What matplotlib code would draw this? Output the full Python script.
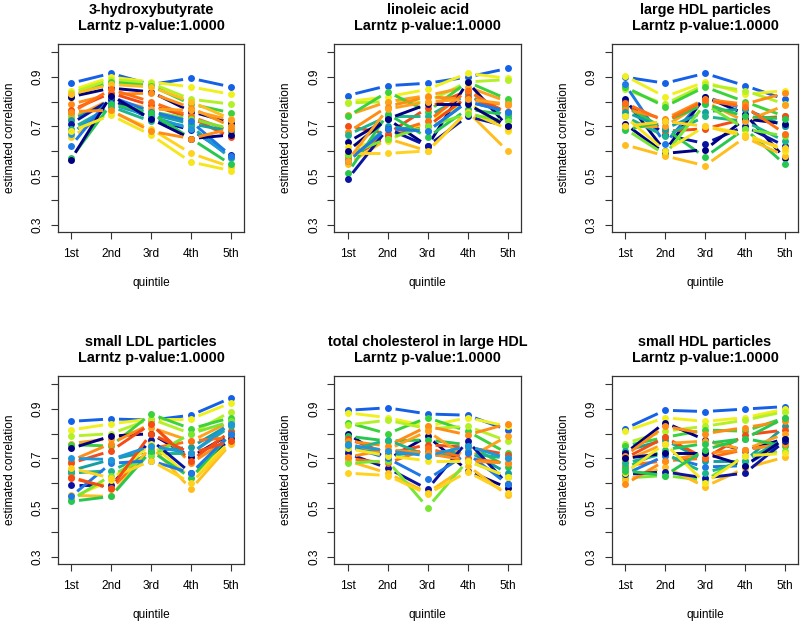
import numpy as np
import matplotlib
matplotlib.use("Agg")
import matplotlib.pyplot as plt
from matplotlib.transforms import offset_copy

plt.rcParams["font.family"] = ["Liberation Sans", "DejaVu Sans"]

QUINTILES = ["1st", "2nd", "3rd", "4th", "5th"]
TITLES = ["3-hydroxybutyrate", "linoleic acid", "large HDL particles",
          "small LDL particles", "total cholesterol in large HDL",
          "small HDL particles"]
SUBTITLE = "Larntz p-value:1.0000"
Y_TICKS = [0.3, 0.4, 0.5, 0.6, 0.7, 0.8, 0.9, 1.0]
Y_TICK_LABELS = ["0.3", "", "0.5", "", "0.7", "", "0.9", ""]

# palette, navy -> blue -> teal -> green -> yellow -> orange -> orange-red
PALETTE = ["#000080", "#0A14A0", "#1460E6", "#1E78E6", "#1E96DC",
           "#14A0A0", "#1EB48C", "#28C850", "#3CD23C", "#78E632",
           "#B4F028", "#DCF028", "#F0F01E", "#F5E61E", "#FFD21E",
           "#FFBE1E", "#FFA01E", "#FF8C14", "#FF6E14", "#F54B14"]

# panel 1: 3-hydroxybutyrate
P1_COLORS = [2, 12, 10, 8, 0, 15, 17, 19, 18, 9, 16, 5, 1, 6, 14, 4, 3, 7, 0, 13, 17]
P1_VALUES = [
    [0.875, 0.915, 0.870, 0.895, 0.860],
    [0.845, 0.900, 0.880, 0.860, 0.830],
    [0.835, 0.890, 0.875, 0.810, 0.790],
    [0.820, 0.880, 0.865, 0.790, 0.755],
    [0.820, 0.855, 0.840, 0.760, 0.715],
    [0.830, 0.870, 0.860, 0.800, 0.730],
    [0.790, 0.830, 0.835, 0.775, 0.700],
    [0.765, 0.835, 0.785, 0.735, 0.655],
    [0.755, 0.850, 0.800, 0.740, 0.680],
    [0.740, 0.790, 0.760, 0.730, 0.690],
    [0.730, 0.810, 0.770, 0.765, 0.725],
    [0.725, 0.800, 0.750, 0.710, 0.680],
    [0.710, 0.810, 0.730, 0.685, 0.585],
    [0.690, 0.780, 0.720, 0.700, 0.570],
    [0.655, 0.760, 0.690, 0.590, 0.535],
    [0.670, 0.790, 0.740, 0.690, 0.575],
    [0.620, 0.820, 0.760, 0.720, 0.580],
    [0.570, 0.790, 0.755, 0.650, 0.545],
    [0.565, 0.825, 0.730, 0.650, 0.665],
    [0.680, 0.745, 0.665, 0.555, 0.520],
    [0.760, 0.765, 0.680, 0.650, 0.690],
]

# panel 2: linoleic acid
P2_COLORS = [2, 12, 10, 16, 8, 19, 17, 6, 0, 13, 18, 19, 5, 15, 7, 1, 14, 9, 3, 0, 16]
P2_VALUES = [
    [0.825, 0.865, 0.875, 0.900, 0.935],
    [0.800, 0.820, 0.850, 0.915, 0.895],
    [0.795, 0.800, 0.800, 0.880, 0.890],
    [0.745, 0.800, 0.825, 0.860, 0.800],
    [0.740, 0.840, 0.760, 0.880, 0.810],
    [0.700, 0.670, 0.775, 0.845, 0.750],
    [0.675, 0.780, 0.820, 0.810, 0.785],
    [0.665, 0.740, 0.740, 0.830, 0.735],
    [0.635, 0.730, 0.620, 0.880, 0.700],
    [0.615, 0.640, 0.720, 0.800, 0.680],
    [0.575, 0.670, 0.720, 0.845, 0.750],
    [0.565, 0.660, 0.700, 0.820, 0.760],
    [0.555, 0.700, 0.680, 0.800, 0.760],
    [0.545, 0.650, 0.600, 0.760, 0.600],
    [0.510, 0.750, 0.655, 0.770, 0.745],
    [0.485, 0.690, 0.620, 0.740, 0.700],
    [0.590, 0.590, 0.600, 0.760, 0.690],
    [0.585, 0.650, 0.700, 0.750, 0.720],
    [0.560, 0.690, 0.680, 0.800, 0.760],
    [0.600, 0.730, 0.790, 0.790, 0.700],
    [0.560, 0.770, 0.800, 0.810, 0.790],
]

# panel 3: large HDL particles
P3_COLORS = [2, 12, 10, 8, 3, 0, 1, 19, 7, 17, 5, 6, 0, 16, 9, 7, 15, 13, 18, 14]
P3_VALUES = [
    [0.900, 0.875, 0.915, 0.865, 0.810],
    [0.905, 0.820, 0.880, 0.830, 0.845],
    [0.850, 0.790, 0.870, 0.845, 0.790],
    [0.860, 0.780, 0.860, 0.800, 0.740],
    [0.870, 0.630, 0.820, 0.770, 0.700],
    [0.810, 0.600, 0.820, 0.750, 0.570],
    [0.800, 0.665, 0.630, 0.700, 0.620],
    [0.790, 0.680, 0.690, 0.730, 0.740],
    [0.780, 0.690, 0.575, 0.690, 0.545],
    [0.770, 0.730, 0.810, 0.790, 0.835],
    [0.760, 0.690, 0.760, 0.770, 0.700],
    [0.740, 0.660, 0.740, 0.720, 0.640],
    [0.710, 0.590, 0.605, 0.730, 0.710],
    [0.700, 0.700, 0.800, 0.720, 0.785],
    [0.690, 0.585, 0.790, 0.690, 0.660],
    [0.685, 0.720, 0.790, 0.740, 0.730],
    [0.625, 0.580, 0.540, 0.655, 0.580],
    [0.740, 0.600, 0.700, 0.670, 0.600],
    [0.795, 0.720, 0.805, 0.780, 0.670],
    [0.700, 0.720, 0.700, 0.660, 0.610],
]

# panel 4: small LDL particles
P4_COLORS = [2, 12, 10, 16, 8, 0, 17, 19, 5, 6, 18, 1, 15, 13, 9, 7, 3, 14, 19, 4]
P4_VALUES = [
    [0.850, 0.860, 0.855, 0.875, 0.945],
    [0.815, 0.840, 0.860, 0.860, 0.925],
    [0.790, 0.800, 0.860, 0.800, 0.890],
    [0.760, 0.780, 0.825, 0.770, 0.850],
    [0.755, 0.750, 0.880, 0.820, 0.865],
    [0.740, 0.790, 0.800, 0.705, 0.800],
    [0.690, 0.760, 0.840, 0.680, 0.785],
    [0.680, 0.730, 0.840, 0.690, 0.810],
    [0.650, 0.695, 0.730, 0.745, 0.840],
    [0.640, 0.650, 0.720, 0.720, 0.830],
    [0.625, 0.575, 0.740, 0.770, 0.785],
    [0.590, 0.590, 0.775, 0.640, 0.780],
    [0.550, 0.545, 0.750, 0.575, 0.760],
    [0.540, 0.610, 0.760, 0.620, 0.770],
    [0.530, 0.630, 0.710, 0.800, 0.850],
    [0.525, 0.545, 0.730, 0.620, 0.800],
    [0.545, 0.680, 0.690, 0.640, 0.800],
    [0.660, 0.620, 0.690, 0.600, 0.765],
    [0.620, 0.580, 0.800, 0.720, 0.770],
    [0.700, 0.695, 0.750, 0.720, 0.840],
]

# panel 5: total cholesterol in large HDL
P5_COLORS = [2, 12, 8, 10, 0, 7, 19, 17, 5, 16, 6, 1, 18, 15, 9, 14, 3, 17, 13, 4]
P5_VALUES = [
    [0.895, 0.905, 0.880, 0.875, 0.815],
    [0.885, 0.865, 0.830, 0.865, 0.830],
    [0.845, 0.800, 0.865, 0.810, 0.720],
    [0.835, 0.855, 0.820, 0.830, 0.770],
    [0.800, 0.695, 0.790, 0.650, 0.580],
    [0.790, 0.770, 0.775, 0.755, 0.665],
    [0.780, 0.720, 0.755, 0.745, 0.715],
    [0.770, 0.750, 0.830, 0.795, 0.840],
    [0.760, 0.710, 0.730, 0.730, 0.640],
    [0.745, 0.735, 0.810, 0.700, 0.790],
    [0.730, 0.775, 0.710, 0.720, 0.700],
    [0.720, 0.660, 0.575, 0.770, 0.595],
    [0.700, 0.680, 0.740, 0.700, 0.680],
    [0.690, 0.640, 0.560, 0.670, 0.550],
    [0.680, 0.690, 0.500, 0.690, 0.625],
    [0.640, 0.630, 0.555, 0.645, 0.560],
    [0.750, 0.700, 0.615, 0.720, 0.595],
    [0.705, 0.735, 0.720, 0.690, 0.680],
    [0.740, 0.710, 0.690, 0.690, 0.625],
    [0.755, 0.730, 0.710, 0.750, 0.700],
]

# panel 6: small HDL particles
P6_COLORS = [2, 12, 10, 8, 5, 0, 17, 19, 16, 18, 7, 3, 9, 15, 17, 1, 6, 0, 13, 7]
P6_VALUES = [
    [0.820, 0.895, 0.890, 0.900, 0.910],
    [0.810, 0.865, 0.850, 0.865, 0.900],
    [0.760, 0.810, 0.830, 0.855, 0.890],
    [0.750, 0.785, 0.815, 0.810, 0.865],
    [0.730, 0.775, 0.690, 0.690, 0.830],
    [0.720, 0.845, 0.775, 0.730, 0.780],
    [0.710, 0.830, 0.800, 0.825, 0.850],
    [0.700, 0.785, 0.700, 0.795, 0.815],
    [0.690, 0.760, 0.770, 0.735, 0.800],
    [0.670, 0.690, 0.700, 0.735, 0.760],
    [0.660, 0.735, 0.760, 0.780, 0.750],
    [0.635, 0.710, 0.665, 0.670, 0.770],
    [0.620, 0.630, 0.610, 0.710, 0.730],
    [0.610, 0.665, 0.585, 0.660, 0.705],
    [0.595, 0.690, 0.720, 0.735, 0.760],
    [0.635, 0.645, 0.620, 0.640, 0.770],
    [0.680, 0.720, 0.640, 0.690, 0.780],
    [0.700, 0.720, 0.720, 0.670, 0.780],
    [0.640, 0.760, 0.600, 0.710, 0.720],
    [0.650, 0.630, 0.735, 0.780, 0.865],
]

PANELS = [(P1_COLORS, P1_VALUES), (P2_COLORS, P2_VALUES), (P3_COLORS, P3_VALUES),
          (P4_COLORS, P4_VALUES), (P5_COLORS, P5_VALUES), (P6_COLORS, P6_VALUES)]

W, H = 800, 624
LEFTS = [57.7, 334.3, 611.7]
TOPS = [44.3, 376.3]
BOX_W, BOX_H = 186.6, 187.4
GAP = 8.0  # px, R type="b" gap between line ends and points
FS = 8.6


def draw_series(ax, x, y, color, z):
    """Points plus lines that stop short of each point, like R's type='b'."""
    pts = ax.transData.transform(np.column_stack([x, y]))
    inv = ax.transData.inverted()
    for a, b in zip(pts[:-1], pts[1:]):
        d = b - a
        length = np.hypot(d[0], d[1])
        if length <= 2 * GAP:
            continue
        u = d / length
        seg = inv.transform(np.array([a + u * GAP, b - u * GAP]))
        ax.plot(seg[:, 0], seg[:, 1], color=color, lw=2.1,
                solid_capstyle="butt", zorder=z)
    ax.plot(x, y, "o", color=color, ms=5.0, mec="none", zorder=z)


fig = plt.figure(figsize=(W / 100, H / 100), dpi=100)
x = np.arange(1, 6)

for k, (cols, vals) in enumerate(PANELS):
    r, c = divmod(k, 3)
    ax = fig.add_axes([LEFTS[c] / W, 1 - (TOPS[r] + BOX_H) / H, BOX_W / W, BOX_H / H])
    ax.set_xlim(0.667, 5.333)
    ax.set_ylim(0.272, 1.033)
    for i, (ci, v) in enumerate(zip(cols, vals)):
        draw_series(ax, x, v, PALETTE[ci], 2 + i * 0.01)

    ax.set_xticks(x)
    ax.set_xticklabels(QUINTILES, fontsize=FS)
    ax.set_yticks(Y_TICKS)
    ax.set_yticklabels(Y_TICK_LABELS, fontsize=FS, rotation=90, va="center", ha="center")
    ax.tick_params(axis="both", length=5, width=0.8, color="#333333")
    ax.tick_params(axis="y", pad=9.5)
    ax.tick_params(axis="x", pad=7)
    for s in ax.spines.values():
        s.set_linewidth(0.9)
        s.set_color("#333333")

    t1 = offset_copy(ax.transAxes, fig=fig, x=0, y=34.3, units="dots")
    t2 = offset_copy(ax.transAxes, fig=fig, x=0, y=18.7, units="dots")
    ax.text(0.5, 1, TITLES[k], transform=t1, ha="center", va="center",
            fontsize=10.4, fontweight="bold")
    ax.text(0.5, 1, SUBTITLE, transform=t2, ha="center", va="center",
            fontsize=10.4, fontweight="bold")
    tx = offset_copy(ax.transAxes, fig=fig, x=0, y=-51.3, units="dots")
    ax.text(0.5, 0, "quintile", transform=tx, ha="center", va="center", fontsize=FS)
    ty = offset_copy(ax.transAxes, fig=fig, x=-48, y=0, units="dots")
    ax.text(0, 0.5, "estimated correlation", transform=ty, ha="center", va="center",
            rotation=90, fontsize=FS)

fig.savefig("out.png", dpi=100)
